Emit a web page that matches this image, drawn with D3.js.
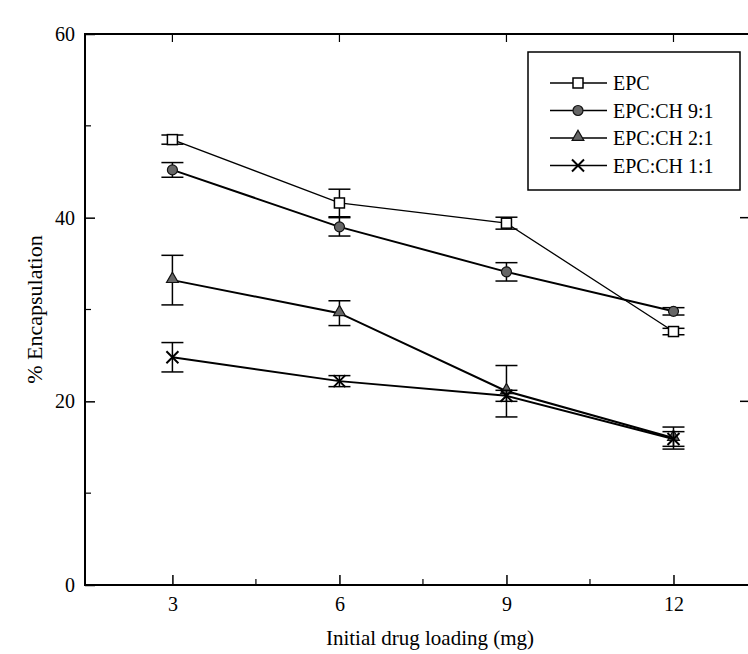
<!DOCTYPE html>
<html>
<head>
<meta charset="utf-8">
<script src="https://cdn.jsdelivr.net/npm/d3@7"></script>
<style>
  body { margin: 0; background: #fff; }
  svg { font-family: "Liberation Serif", "DejaVu Serif", serif; }
</style>
</head>
<body>
<div id="chart"></div>
<script>
// Chart data
const LOADING = [3, 6, 9, 12];
const SERIES_NAMES = ["EPC", "EPC:CH 9:1", "EPC:CH 2:1", "EPC:CH 1:1"];
const EPC = [48.5, 41.6, 39.4, 27.6];
const EPC_ERR = [0.5, 1.5, 0.65, 0.35];
const CH91 = [45.2, 39.0, 34.1, 29.8];
const CH91_ERR = [0.8, 1.0, 1.0, 0.4];
const CH21 = [33.2, 29.6, 21.1, 16.0];
const CH21_ERR = [2.7, 1.35, 2.8, 1.2];
const CH11 = [24.8, 22.2, 20.6, 15.9];
const CH11_ERR = [1.6, 0.6, 0.6, 0.8];
const Y_TICKS = [0, 20, 40, 60];
const Y_MINOR = [10, 30, 50];
const X_MINOR = [4.5, 7.5, 10.5];

const WIDTH = 748, HEIGHT = 654;
const PLOT = {left: 85, right: 757, top: 34, bottom: 585};

const svg = d3.select("#chart").append("svg")
  .attr("width", WIDTH).attr("height", HEIGHT);

const X_SCALE = d3.scaleLinear().domain([1.43, 13.5]).range([PLOT.left, PLOT.right]);
const Y_SCALE = d3.scaleLinear().domain([0, 60]).range([PLOT.bottom, PLOT.top]);

// frame
svg.append("rect")
  .attr("x", PLOT.left).attr("y", PLOT.top)
  .attr("width", PLOT.right - PLOT.left).attr("height", PLOT.bottom - PLOT.top)
  .attr("fill", "none").attr("stroke", "#000").attr("stroke-width", 2);

// bottom axis, ticks pointing inward
const xAxis = svg.append("g")
  .attr("transform", "translate(0," + PLOT.bottom + ")")
  .call(d3.axisBottom(X_SCALE).tickValues(LOADING).tickSizeInner(-10).tickSizeOuter(0).tickPadding(12));
xAxis.select(".domain").remove();
xAxis.selectAll("line").attr("stroke-width", 1.5);
xAxis.selectAll("text").attr("font-size", "20px").attr("font-family", "Liberation Serif");
svg.append("g").selectAll("line").data(X_MINOR).enter().append("line")
  .attr("x1", d => X_SCALE(d)).attr("x2", d => X_SCALE(d))
  .attr("y1", PLOT.bottom).attr("y2", PLOT.bottom - 6)
  .attr("stroke", "#000").attr("stroke-width", 1.2);

// top ticks
svg.append("g").selectAll("line").data(LOADING).enter().append("line")
  .attr("x1", d => X_SCALE(d)).attr("x2", d => X_SCALE(d))
  .attr("y1", PLOT.top).attr("y2", PLOT.top + 8)
  .attr("stroke", "#000").attr("stroke-width", 1.2);

// left axis
const yAxis = svg.append("g")
  .attr("transform", "translate(" + PLOT.left + ",0)")
  .call(d3.axisLeft(Y_SCALE).tickValues(Y_TICKS).tickSizeInner(-10).tickSizeOuter(0).tickPadding(10));
yAxis.select(".domain").remove();
yAxis.selectAll("line").attr("stroke-width", 1.5);
yAxis.selectAll("text").attr("font-size", "20px").attr("font-family", "Liberation Serif");
svg.append("g").selectAll("line").data(Y_MINOR).enter().append("line")
  .attr("x1", PLOT.left).attr("x2", PLOT.left + 6)
  .attr("y1", d => Y_SCALE(d)).attr("y2", d => Y_SCALE(d))
  .attr("stroke", "#000").attr("stroke-width", 1.2);

// right ticks (axis itself falls just outside the picture)
svg.append("g").selectAll("line").data([20, 40]).enter().append("line")
  .attr("x1", 740).attr("x2", 748)
  .attr("y1", d => Y_SCALE(d)).attr("y2", d => Y_SCALE(d))
  .attr("stroke", "#000").attr("stroke-width", 1.5);

// axis titles
svg.append("text")
  .attr("x", 430).attr("y", 645)
  .attr("text-anchor", "middle").attr("font-size", "21px")
  .text("Initial drug loading (mg)");
svg.append("text")
  .attr("transform", "translate(42," + ((PLOT.top + PLOT.bottom) / 2) + ") rotate(-90)")
  .attr("text-anchor", "middle").attr("font-size", "22px")
  .text("% Encapsulation");

const series = [
  {name: SERIES_NAMES[0], vals: EPC, errs: EPC_ERR, marker: "square", width: 1.3},
  {name: SERIES_NAMES[1], vals: CH91, errs: CH91_ERR, marker: "circle", width: 2},
  {name: SERIES_NAMES[2], vals: CH21, errs: CH21_ERR, marker: "triangle", width: 2},
  {name: SERIES_NAMES[3], vals: CH11, errs: CH11_ERR, marker: "cross", width: 2}
];

function drawMarker(g, type, x, y) {
  if (type === "square") {
    g.append("rect").attr("x", x - 5).attr("y", y - 5).attr("width", 10).attr("height", 10)
      .attr("fill", "#fff").attr("stroke", "#000").attr("stroke-width", 1.5);
  } else if (type === "circle") {
    g.append("circle").attr("cx", x).attr("cy", y).attr("r", 5)
      .attr("fill", "#666").attr("stroke", "#111").attr("stroke-width", 1.2);
  } else if (type === "triangle") {
    g.append("path").attr("d", d3.symbol(d3.symbolTriangle, 60)())
      .attr("transform", "translate(" + x + "," + (y - 1) + ")")
      .attr("fill", "#666").attr("stroke", "#111").attr("stroke-width", 1.2);
  } else {
    g.append("path").attr("d", "M" + (x - 6) + "," + (y - 6) + "L" + (x + 6) + "," + (y + 6) +
      "M" + (x + 6) + "," + (y - 6) + "L" + (x - 6) + "," + (y + 6))
      .attr("stroke", "#000").attr("stroke-width", 2);
  }
}

const line = d3.line().x(d => X_SCALE(d[0])).y(d => Y_SCALE(d[1]));

series.forEach(s => {
  const g = svg.append("g");
  const pts = LOADING.map((x, i) => [x, s.vals[i], s.errs[i]]);
  g.append("path").datum(pts).attr("d", line)
    .attr("fill", "none").attr("stroke", "#000").attr("stroke-width", s.width);
  pts.forEach(p => {
    const cx = X_SCALE(p[0]);
    const yTop = Y_SCALE(p[1] + p[2]), yBot = Y_SCALE(p[1] - p[2]);
    g.append("line").attr("x1", cx).attr("x2", cx).attr("y1", yTop).attr("y2", yBot)
      .attr("stroke", "#000").attr("stroke-width", 1.5);
    [yTop, yBot].forEach(yy => {
      g.append("line").attr("x1", cx - 11).attr("x2", cx + 11).attr("y1", yy).attr("y2", yy)
        .attr("stroke", "#000").attr("stroke-width", 1.5);
    });
    drawMarker(g, s.marker, cx, Y_SCALE(p[1]));
  });
});

// legend
const legend = svg.append("g");
legend.append("rect").attr("x", 528).attr("y", 52).attr("width", 212).attr("height", 138)
  .attr("fill", "#fff").attr("stroke", "#000").attr("stroke-width", 1.5);
series.forEach((s, i) => {
  const ly = 83 + i * 27.5;
  legend.append("line").attr("x1", 550).attr("x2", 607).attr("y1", ly).attr("y2", ly)
    .attr("stroke", "#000").attr("stroke-width", 1.5);
  drawMarker(legend, s.marker, 578, ly);
  legend.append("text").attr("x", 613).attr("y", ly + 7)
    .attr("font-size", "20px")
    .text(s.name);
});
</script>
</body>
</html>
